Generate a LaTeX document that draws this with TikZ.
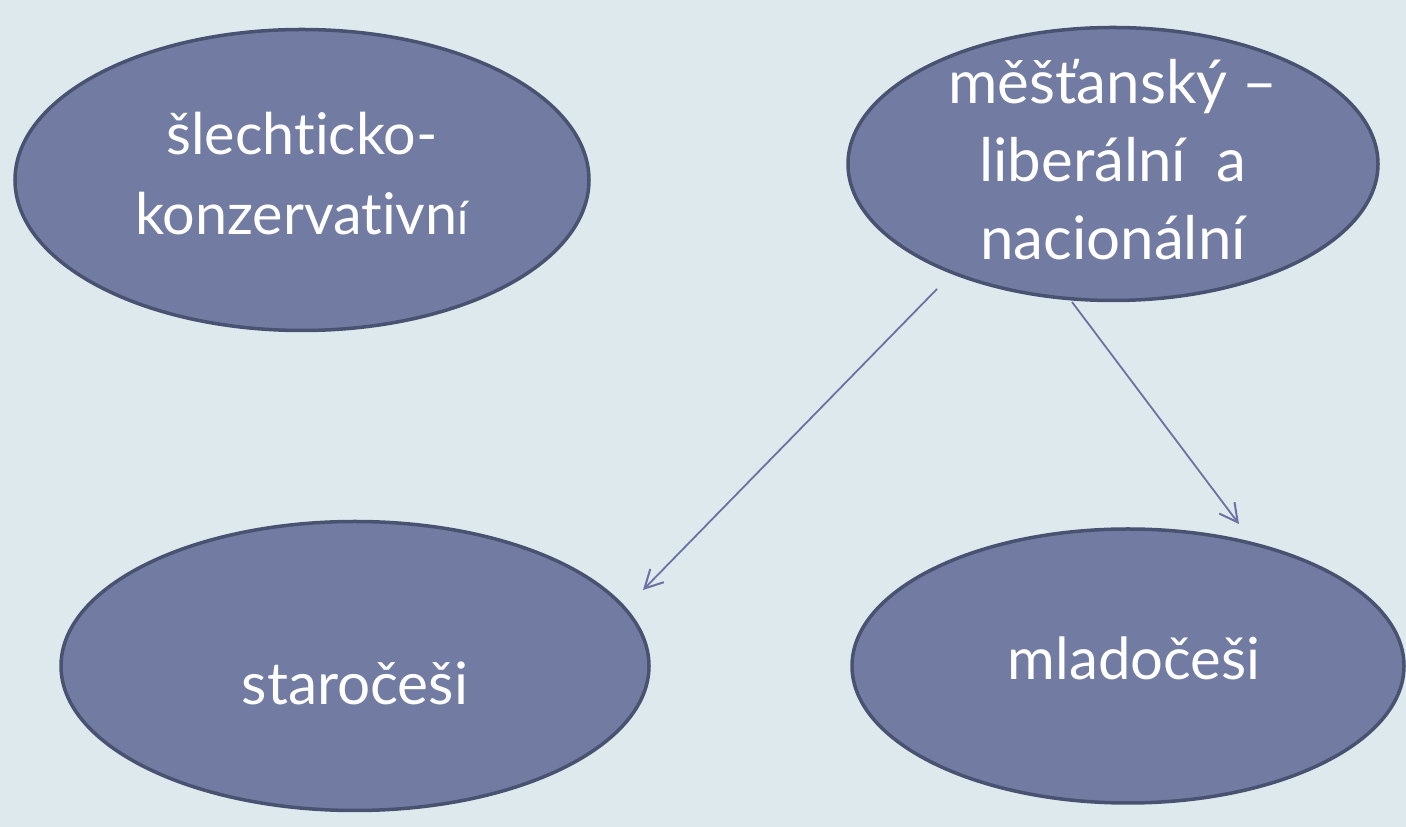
\documentclass[tikz,border=0pt]{standalone}
\usepackage{fontspec}
\setmainfont{Lato}[Ligatures=NoCommon]
\usetikzlibrary{shapes.geometric,arrows.meta}
\definecolor{bgc}{RGB}{222,233,237}
\definecolor{fillc}{RGB}{114,123,161}
\definecolor{linec}{RGB}{74,82,114}
\definecolor{arrc}{RGB}{106,114,162}
\newcommand{\inbox}[2]{\raisebox{#1}[0pt][0pt]{\makebox[0pt]{\begin{tabular}[b]{@{}c@{}}#2\end{tabular}}}}
\tikzset{
  oval/.style={ellipse, draw=linec, line width=3.5pt, fill=fillc, text=white, align=center, inner sep=0pt},
  conn/.style={draw=arrc, line width=1.8pt, -{Straight Barb[length=18pt,width=19pt,line width=2pt]}}
}
\begin{document}
\begin{tikzpicture}[x=1pt,y=1pt]
\fill[bgc] (0,0) rectangle (1406,827);
\useasboundingbox (0,0) rectangle (1406,827);
\node[oval, minimum width=574pt, minimum height=301pt, font=\fontsize{57.5}{80}\selectfont] (a) at (302,647)
  {\inbox{-55pt}{šlechticko-\\konzervativn{\fontsize{46}{80}\selectfont í}}};
\node[oval, minimum width=530pt, minimum height=273pt, font=\fontsize{60}{78}\selectfont] (b) at (1113,663)
  {\inbox{-96pt}{měšťanský --\\liberální\ \ a\\nacionální}};
\node[oval, minimum width=588pt, minimum height=289pt, font=\fontsize{58.5}{70}\selectfont] (c) at (355,161)
  {\inbox{-39pt}{staročeši}};
\node[oval, minimum width=552pt, minimum height=274pt, font=\fontsize{58}{70}\selectfont] (d) at (1128,161)
  {\inbox{-14pt}{\hspace*{12pt}mladočeši}};
\coordinate (s1) at (937,538);
\coordinate (e1) at (643,237);
\coordinate (s2) at (1072,525);
\coordinate (e2) at (1239,303);
\draw[conn] (s1) -- (e1);
\draw[conn] (s2) -- (e2);
\end{tikzpicture}
\end{document}
